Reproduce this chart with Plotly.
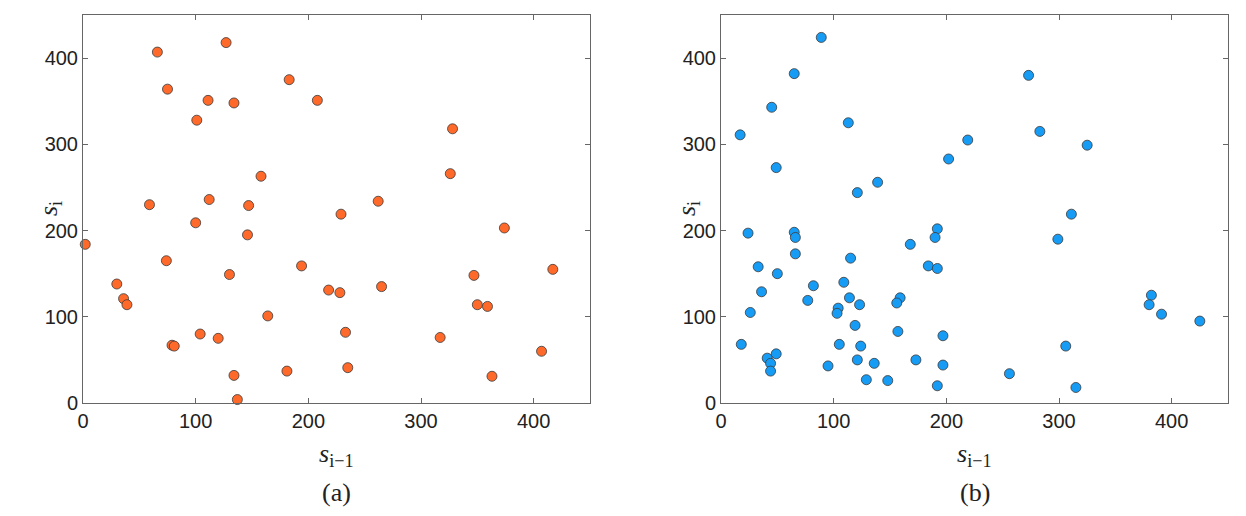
import plotly.graph_objects as go

# panel (a)
a_prev = [66, 127, 75, 111, 134, 183, 208, 101, 158, 59, 112, 147,
          328, 326, 262,
          100, 146, 2, 74, 130, 194, 218, 30, 36, 39, 164, 104, 120, 79, 81, 134, 181, 137,
          229, 374, 347, 417, 228, 265, 350, 359, 233, 317, 235, 407, 363]
a_curr = [407, 418, 364, 351, 348, 375, 351, 328, 263, 230, 236, 229,
          318, 266, 234,
          209, 195, 184, 165, 149, 159, 131, 138, 121, 114, 101, 80, 75, 67, 66, 32, 37, 4,
          219, 203, 148, 155, 128, 135, 114, 112, 82, 76, 41, 60, 31]

# panel (b)
b_prev = [89, 65, 45, 17, 113, 49, 121, 139, 202, 219,
          273, 283, 325,
          24, 65, 66, 66, 33, 50, 36, 26, 18, 82, 77, 115, 109, 114, 123, 104, 103,
          119, 105, 124, 121, 136, 95, 129, 148, 49, 41, 44, 44, 168, 192, 190, 184,
          192, 159, 156, 157, 197, 173, 197, 192,
          311, 299, 382, 380, 391, 425, 306, 256, 315]
b_curr = [424, 382, 343, 311, 325, 273, 244, 256, 283, 305,
          380, 315, 299,
          197, 198, 192, 173, 158, 150, 129, 105, 68, 136, 119, 168, 140, 122, 114, 110, 104,
          90, 68, 66, 50, 46, 43, 27, 26, 57, 52, 46, 37, 184, 202, 192, 159,
          156, 122, 116, 83, 78, 50, 44, 20,
          219, 190, 125, 114, 103, 95, 66, 34, 18]

ticks = [0, 100, 200, 300, 400]
# page body keeps its default 8px margin, so the figure is drawn 8px in
OFF = 8
W, H = 1246 - 2 * OFF, 516 - 2 * OFF
PLOT_H = 388

fig = go.Figure()
fig.add_trace(go.Scatter(x=a_prev, y=a_curr, mode="markers", cliponaxis=False,
                         marker=dict(size=10, color="#FF6A2A",
                                     line=dict(color="#3a3a3a", width=0.8)),
                         xaxis="x", yaxis="y", showlegend=False))
fig.add_trace(go.Scatter(x=b_prev, y=b_curr, mode="markers", cliponaxis=False,
                         marker=dict(size=10, color="#179CF5",
                                     line=dict(color="#3a3a3a", width=0.8)),
                         xaxis="x2", yaxis="y2", showlegend=False))

axis_style = dict(range=[0, 450], tickvals=ticks, ticks="inside", ticklen=5,
                  tickcolor="#666", linecolor="#666", linewidth=1, mirror="ticks",
                  showline=True, showgrid=False, zeroline=False, automargin=False,
                  tickfont=dict(family="Liberation Sans, Arial", size=20, color="#222"))

fig.update_layout(
    width=W, height=H,
    margin=dict(l=0, r=0, t=15 - OFF, b=H - (403 - OFF)),
    plot_bgcolor="white", paper_bgcolor="white",
    xaxis=dict(domain=[(83 - OFF) / W, (590 - OFF) / W], anchor="y", **axis_style),
    yaxis=dict(domain=[0, 1], anchor="x", **axis_style),
    xaxis2=dict(domain=[(721 - OFF) / W, (1228 - OFF) / W], anchor="y2", **axis_style),
    yaxis2=dict(domain=[0, 1], anchor="x2", **axis_style),
)

serif = dict(family="Liberation Serif, DejaVu Serif", size=26, color="#222")
label_y = -52 / PLOT_H
caption_y = -89 / PLOT_H
for xc, yc, cap in [(336.5, 50, "(a)"), (974.5, 688, "(b)")]:
    fig.add_annotation(text="<i>s</i><sub>i−1</sub>", x=(xc - OFF) / W, y=label_y,
                       xref="paper", yref="paper", showarrow=False,
                       xanchor="center", yanchor="middle", font=serif)
    fig.add_annotation(text=cap, x=(xc - OFF) / W, y=caption_y,
                       xref="paper", yref="paper", showarrow=False,
                       xanchor="center", yanchor="middle", font=serif)
    fig.add_annotation(text="<i>s</i><sub>i</sub>", x=(yc - OFF) / W, y=0.5,
                       xref="paper", yref="paper", showarrow=False, textangle=-90,
                       xanchor="center", yanchor="middle", font=serif)

fig.write_html("out.html")
